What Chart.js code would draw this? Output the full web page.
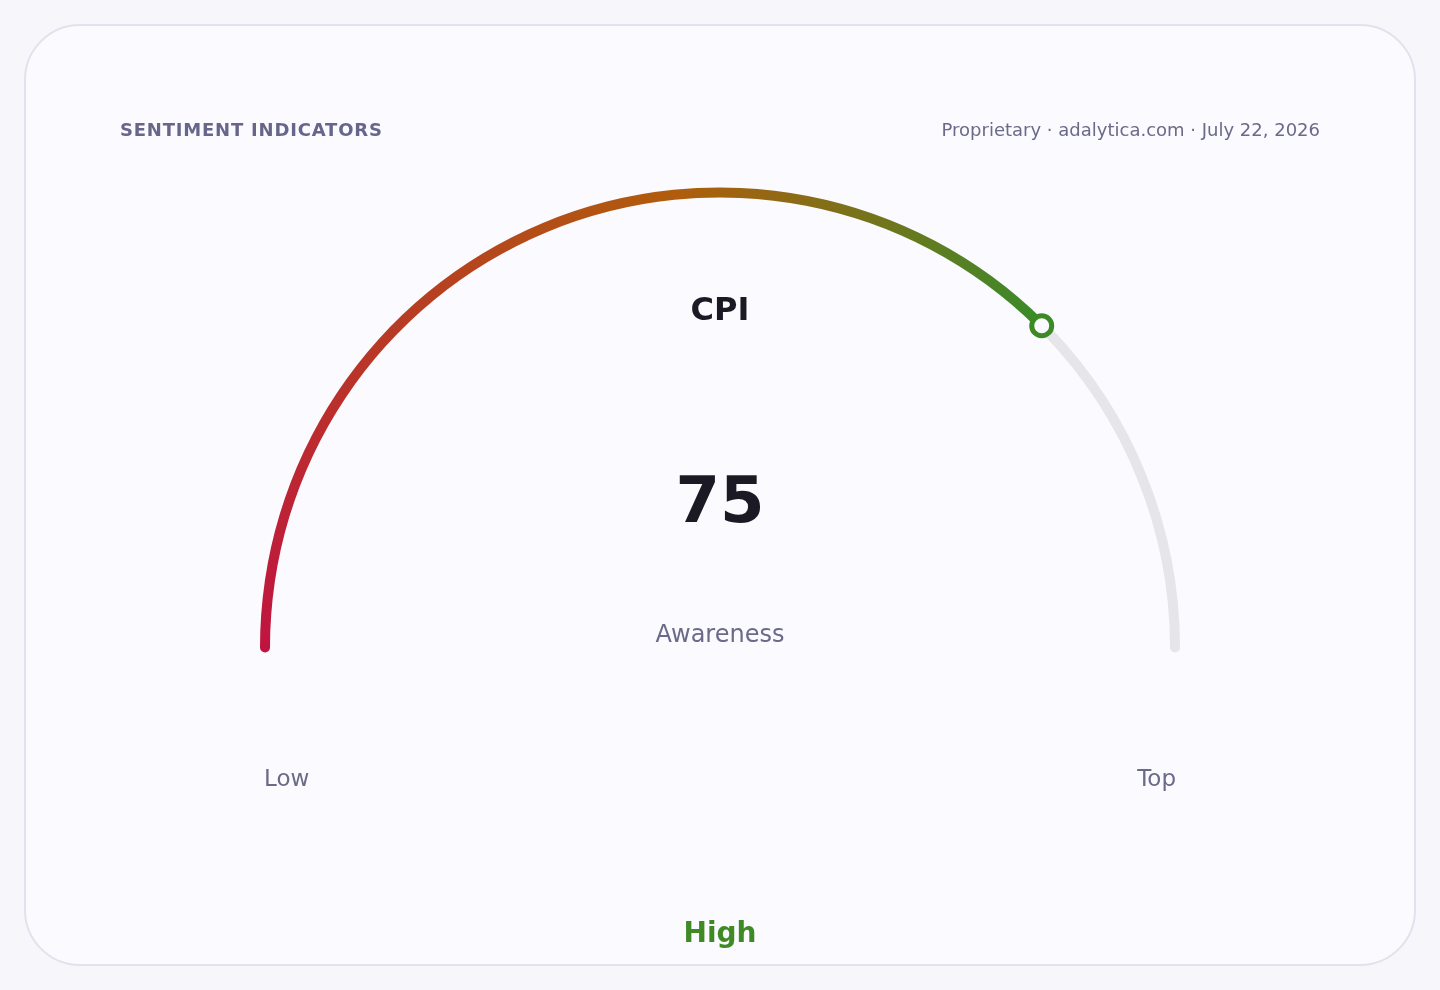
<!DOCTYPE html>
<html>
<head>
<meta charset="utf-8">
<script src="https://cdn.jsdelivr.net/npm/chart.js@4.4.1/dist/chart.umd.min.js"></script>
<style>
  html, body { margin: 0; padding: 0; }
  body {
    width: 1440px; height: 990px; position: relative; overflow: hidden;
    background: #f6f6fb; font-family: "DejaVu Sans", sans-serif;
  }
  .card {
    position: absolute; left: 24px; top: 24px; width: 1388px; height: 938px;
    border: 2px solid #e2e2ee; border-radius: 56px; background: #fafaff;
  }
  #gauge { position: absolute; left: 0; top: 0; }
  .txt { position: absolute; line-height: 1; white-space: nowrap; }
  .kicker { left: 120px; top: 121px; font-size: 18px; font-weight: bold; color: #67668a; letter-spacing: 0.8px; }
  .source { right: 120px; top: 121px; font-size: 18px; color: #6b6a88; }
  .name { left: 0; width: 1440px; text-align: center; top: 293px; font-size: 32px; font-weight: bold; color: #1b1a24; }
  .value { left: 0; width: 1440px; text-align: center; top: 468px; font-size: 64px; font-weight: bold; color: #1b1a24; }
  .metric { left: 0; width: 1440px; text-align: center; top: 622px; font-size: 24px; color: #6b6a88; }
  .low { left: 264px; top: 767px; font-size: 23px; color: #6b6a88; }
  .top { right: 264px; top: 767px; font-size: 23px; color: #6b6a88; }
  .band { left: 0; width: 1440px; text-align: center; top: 919px; font-size: 28px; font-weight: bold; color: #3f8a24; }
</style>
</head>
<body>
<div class="card"></div>
<canvas id="gauge" width="1440" height="990"></canvas>
<div class="txt kicker">SENTIMENT INDICATORS</div>
<div class="txt source">Proprietary · adalytica.com · July 22, 2026</div>
<div class="txt name">CPI</div>
<div class="txt value" id="valueText"></div>
<div class="txt metric">Awareness</div>
<div class="txt low">Low</div>
<div class="txt top">Top</div>
<div class="txt band">High</div>

<script>
// gauge reading
const gaugeLabels = ['Awareness', 'Remaining'];
const gaugeValue = 75;
const gaugeMax = 100;
const scaleEnds = ['Low', 'Top'];

// colour stops along the scale (0 = Low, 1 = Top)
const stopPositions = [0, 0.47, 0.74, 1];
const stopColors = ['#c01440', '#b05d0c', '#3b8a2a', '#3b8a2a'];

// the ring ends get rounded inside the arc, so stretch it a little
// past 180deg so the caps reach below the centre line like a round line cap
const capDeg = 0.63;

document.getElementById('valueText').textContent = gaugeValue;

function arcGradient(context) {
    const chart = context.chart;
    const area = chart.chartArea;
    const ctrl = chart.getDatasetMeta(0).controller;
    if (!area || !ctrl) return stopColors[0];
    const cx = (area.left + area.right) / 2 + (ctrl.offsetX || 0);
    const cy = (area.top + area.bottom) / 2 + (ctrl.offsetY || 0);
    // start the sweep a bit before the Low end so its cap stays red
    const lead = 0.2;
    const g = chart.ctx.createConicGradient(Math.PI - lead, cx, cy);
    const full = Math.PI * 2;
    g.addColorStop(0, stopColors[0]);
    stopPositions.forEach((p, i) => g.addColorStop((lead + p * Math.PI) / full, stopColors[i]));
    g.addColorStop(1, stopColors[stopColors.length - 1]);
    return g;
}

// ring marker at the reading on the scale
const markerPlugin = {
    id: 'marker',
    afterDatasetsDraw(chart) {
        const arc = chart.getDatasetMeta(0).data[0];
        if (!arc) return;
        const p = arc.getProps(['x', 'y', 'outerRadius', 'innerRadius'], true);
        const r = (p.outerRadius + p.innerRadius) / 2;
        const a = Math.PI + Math.PI * gaugeValue / gaugeMax;
        const mx = p.x + r * Math.cos(a);
        const my = p.y + r * Math.sin(a);
        const ctx = chart.ctx;
        ctx.save();
        ctx.beginPath();
        ctx.arc(mx, my, 10, 0, Math.PI * 2);
        ctx.fillStyle = '#fafaff';
        ctx.fill();
        ctx.lineWidth = 5;
        ctx.strokeStyle = '#3b8a25';
        ctx.stroke();
        ctx.restore();
    }
};

new Chart(document.getElementById('gauge').getContext('2d'), {
    type: 'doughnut',
    data: {
        labels: gaugeLabels,
        datasets: [{
            data: [gaugeValue, gaugeMax - gaugeValue],
            backgroundColor: (c) => c.dataIndex === 0 ? arcGradient(c) : '#e6e6ea',
            borderWidth: 0,
            borderRadius: 5
        }]
    },
    options: {
        responsive: false,
        animation: false,
        events: [],
        rotation: -90 - capDeg,
        circumference: 180 + 2 * capDeg,
        cutout: '97.826%',
        layout: { padding: { left: 260, right: 260, top: 187, bottom: 337 } },
        plugins: {
            legend: { display: false },
            tooltip: { enabled: false }
        }
    },
    plugins: [markerPlugin]
});
</script>
</body>
</html>
